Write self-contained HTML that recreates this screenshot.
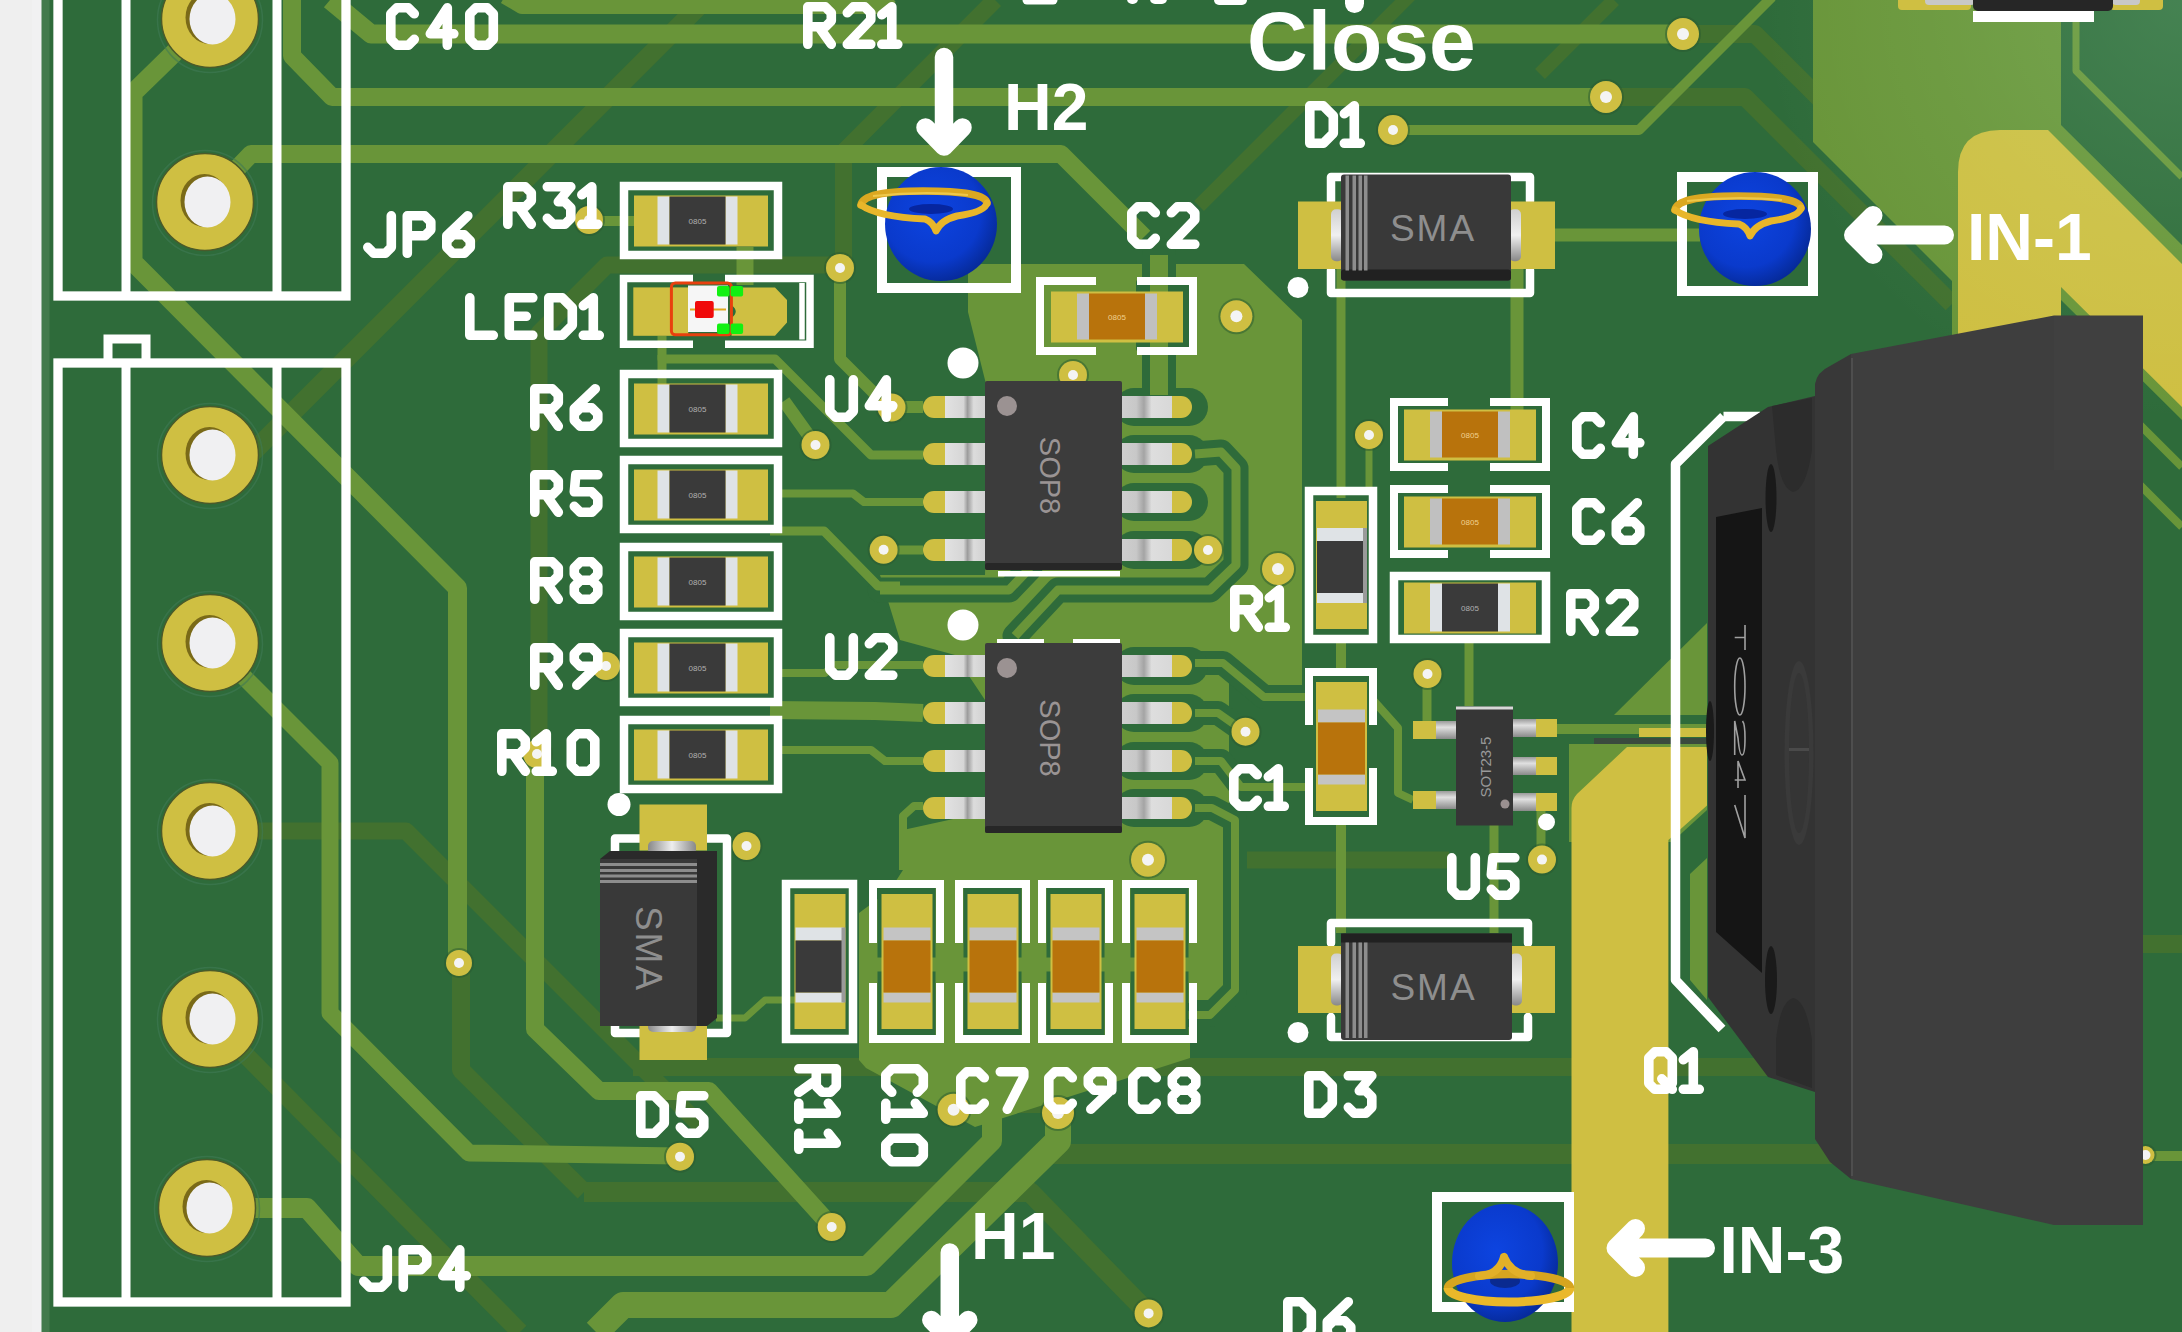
<!DOCTYPE html><html><head><meta charset="utf-8"><style>
html,body{margin:0;padding:0;background:#efefef;overflow:hidden}
svg{display:block;font-family:"Liberation Sans",sans-serif}
</style></head><body>
<svg width="2182" height="1332" viewBox="0 0 2182 1332">
<defs>
<radialGradient id="blue" cx="0.42" cy="0.4" r="0.62">
<stop offset="0" stop-color="#0d44e0"/><stop offset="0.7" stop-color="#0a3acc"/><stop offset="1" stop-color="#062a9a"/></radialGradient>
<linearGradient id="leadh" x1="0" y1="0" x2="0" y2="1">
<stop offset="0" stop-color="#9a9a9a"/><stop offset="0.35" stop-color="#e0e0e0"/><stop offset="1" stop-color="#8a8a8a"/></linearGradient>
<linearGradient id="leadh2" x1="0" y1="0" x2="0" y2="1">
<stop offset="0" stop-color="#d0d0d0"/><stop offset="0.5" stop-color="#f0f0f0"/><stop offset="1" stop-color="#888"/></linearGradient>
<linearGradient id="leadv2" x1="0" y1="0" x2="1" y2="0">
<stop offset="0" stop-color="#888"/><stop offset="0.5" stop-color="#eee"/><stop offset="1" stop-color="#888"/></linearGradient>
<radialGradient id="glow" cx="2182" cy="0" r="420" gradientUnits="userSpaceOnUse">
<stop offset="0" stop-color="#bfffd0" stop-opacity="0.16"/><stop offset="0.6" stop-color="#bfffd0" stop-opacity="0.06"/><stop offset="1" stop-color="#bfffd0" stop-opacity="0"/></radialGradient>
<linearGradient id="leadL" x1="0" y1="0" x2="1" y2="0">
<stop offset="0" stop-color="#e2e2e2"/><stop offset="0.45" stop-color="#d6d6d6"/><stop offset="0.55" stop-color="#9c9c9c"/><stop offset="0.7" stop-color="#dcdcdc"/><stop offset="1" stop-color="#d0d0d0"/></linearGradient>
<linearGradient id="leadR" x1="0" y1="0" x2="1" y2="0">
<stop offset="0" stop-color="#cfcfcf"/><stop offset="0.3" stop-color="#c8c8c8"/><stop offset="0.45" stop-color="#a4a4a4"/><stop offset="0.6" stop-color="#dedede"/><stop offset="1" stop-color="#d8d8d8"/></linearGradient>
<linearGradient id="leftbg" x1="0" y1="0" x2="1" y2="0">
<stop offset="0" stop-color="#f7f7f7"/><stop offset="1" stop-color="#e9e9e9"/></linearGradient>
</defs>

<rect x="0" y="0" width="2182" height="1332" fill="#efefef"/>
<rect x="32" y="0" width="10" height="1332" fill="#f1f1f2"/>
<rect x="42" y="0" width="2140" height="1332" fill="#2e6b3a"/>
<rect x="41.5" y="0" width="8" height="1332" fill="#427a4c"/>
<path d="M250,455 L705,0" fill="none" stroke="#42712f" stroke-width="19" stroke-linejoin="round" stroke-linecap="butt"/>
<path d="M539,754 L539,333 L607,265 L843.5,265" fill="none" stroke="#42712f" stroke-width="17" stroke-linejoin="round" stroke-linecap="butt"/>
<path d="M461,965 L461,1070 L584,1192" fill="none" stroke="#42712f" stroke-width="18" stroke-linejoin="round" stroke-linecap="butt"/>
<path d="M210,1019 L520,1332" fill="none" stroke="#42712f" stroke-width="18" stroke-linejoin="round" stroke-linecap="butt"/>
<path d="M843.5,268 L843.5,152 L995,0" fill="none" stroke="#42712f" stroke-width="17" stroke-linejoin="round" stroke-linecap="butt"/>
<path d="M210,831 L406,831 L585,1010 L700,1125" fill="none" stroke="#42712f" stroke-width="17" stroke-linejoin="round" stroke-linecap="butt"/>
<path d="M584,1192 L1030,1192 L1148,1313" fill="none" stroke="#42712f" stroke-width="20" stroke-linejoin="round" stroke-linecap="butt"/>
<path d="M633,1067 L1850,1067" fill="none" stroke="#42712f" stroke-width="18" stroke-linejoin="round" stroke-linecap="butt"/>
<path d="M1240,860 L1449,860" fill="none" stroke="#42712f" stroke-width="17" stroke-linejoin="round" stroke-linecap="butt"/>
<path d="M1042,1154 L1850,1154" fill="none" stroke="#42712f" stroke-width="20" stroke-linejoin="round" stroke-linecap="butt"/>
<path d="M2100,944 L2182,944" fill="none" stroke="#42712f" stroke-width="18" stroke-linejoin="round" stroke-linecap="butt"/>
<path d="M950,1104 L1058,1104" fill="none" stroke="#42712f" stroke-width="18" stroke-linejoin="round" stroke-linecap="butt"/>
<path d="M1683,34 L1755,34 L1813,92 L1860,139" fill="none" stroke="#42712f" stroke-width="18" stroke-linejoin="round" stroke-linecap="butt"/>
<path d="M1607,97 L1745,97 L1952,304" fill="none" stroke="#42712f" stroke-width="18" stroke-linejoin="round" stroke-linecap="butt"/>
<path d="M1614,0 L1540,74" fill="none" stroke="#42712f" stroke-width="14" stroke-linejoin="round" stroke-linecap="butt"/>
<path d="M1199,206 L1411,-6" fill="none" stroke="#42712f" stroke-width="14" stroke-linejoin="round" stroke-linecap="butt"/>
<path d="M1813,0 L2061,0 L2061,125 L2182,245 L2182,420 L2061,300 L2061,1150 L1952,1150 L1952,281 L1813,142 Z" fill="#699539"/>
<path d="M968,264 L1244,264 L1302,320 L1302,690 L1268,690 L1229,655 L1229,812 L1241,826 L1241,985 L1227,1000 L1190,1000 L1190,1058 L975,1127 L866,1068 L859,1060 L859,913 L890,890 L903,870 L903,830 L985,812 L985,700 L955,655 L900,640 L880,575 L985,575 L990,400 L968,312 Z" fill="#699539"/>
<path d="M1159,255 L1159,395" fill="none" stroke="#2e6b3a" stroke-width="34" stroke-linejoin="round" stroke-linecap="round"/>
<path d="M1015,636 L1058,590 L1210,590 L1236,565 L1236,468 L1221,452 L1195,454" fill="none" stroke="#2e6b3a" stroke-width="25" stroke-linejoin="round" stroke-linecap="round"/>
<path d="M880,590 L1009,590 L1030,568" fill="none" stroke="#2e6b3a" stroke-width="25" stroke-linejoin="round" stroke-linecap="round"/>
<path d="M1195,663 L1223,663 L1264,697 L1305,697" fill="none" stroke="#2e6b3a" stroke-width="24" stroke-linejoin="round" stroke-linecap="round"/>
<path d="M1195,713 L1218,713 L1245,732" fill="none" stroke="#2e6b3a" stroke-width="24" stroke-linejoin="round" stroke-linecap="round"/>
<path d="M1195,761 L1221,761 L1241,787 L1305,787" fill="none" stroke="#2e6b3a" stroke-width="24" stroke-linejoin="round" stroke-linecap="round"/>
<path d="M1195,808 L1212,808 L1235,820 L1235,990 L1210,1015 L1150,1015" fill="none" stroke="#2e6b3a" stroke-width="24" stroke-linejoin="round" stroke-linecap="round"/>
<rect x="1115" y="388" width="93" height="38" rx="19" fill="#2e6b3a"/>
<rect x="1115" y="435" width="93" height="38" rx="19" fill="#2e6b3a"/>
<rect x="1115" y="483" width="93" height="38" rx="19" fill="#2e6b3a"/>
<rect x="1115" y="531" width="93" height="38" rx="19" fill="#2e6b3a"/>
<rect x="1115" y="647" width="93" height="38" rx="19" fill="#2e6b3a"/>
<rect x="1115" y="694" width="93" height="38" rx="19" fill="#2e6b3a"/>
<rect x="1115" y="742" width="93" height="38" rx="19" fill="#2e6b3a"/>
<rect x="1115" y="789" width="93" height="38" rx="19" fill="#2e6b3a"/>
<rect x="1136" y="279" width="57" height="73" rx="4" fill="#2e6b3a"/>
<path d="M1159,255 L1159,395" fill="none" stroke="#699539" stroke-width="18" stroke-linejoin="round" stroke-linecap="butt"/>
<path d="M1015,636 L1058,590 L1210,590 L1236,565 L1236,468 L1221,452 L1195,454" fill="none" stroke="#699539" stroke-width="9" stroke-linejoin="round" stroke-linecap="butt"/>
<path d="M880,590 L1009,590 L1030,568" fill="none" stroke="#699539" stroke-width="9" stroke-linejoin="round" stroke-linecap="butt"/>
<path d="M1195,663 L1223,663 L1264,697 L1305,697" fill="none" stroke="#699539" stroke-width="8" stroke-linejoin="round" stroke-linecap="butt"/>
<path d="M1195,713 L1218,713 L1245,732" fill="none" stroke="#699539" stroke-width="8" stroke-linejoin="round" stroke-linecap="butt"/>
<path d="M1195,761 L1221,761 L1241,787 L1305,787" fill="none" stroke="#699539" stroke-width="8" stroke-linejoin="round" stroke-linecap="butt"/>
<path d="M1195,808 L1212,808 L1235,820 L1235,990 L1210,1015 L1150,1015" fill="none" stroke="#699539" stroke-width="8" stroke-linejoin="round" stroke-linecap="butt"/>
<path d="M1614,715 L1707,623 L1707,715 Z" fill="#699539"/>
<path d="M1569,744 L1707,744 L1707,810 L1672,842 L1569,842 Z" fill="#699539"/>
<path d="M1690,874 L1707,858 L1707,1000 L1690,980 Z" fill="#699539"/>
<path d="M505,-4 L522,6 L880,6 L890,-4" fill="none" stroke="#699539" stroke-width="16" stroke-linejoin="round" stroke-linecap="butt"/>
<path d="M330,0 L371,34 L1683,34" fill="none" stroke="#699539" stroke-width="19" stroke-linejoin="round" stroke-linecap="butt"/>
<path d="M292,0 L292,56 L332,97 L1607,97" fill="none" stroke="#699539" stroke-width="18" stroke-linejoin="round" stroke-linecap="butt"/>
<path d="M205,202 L251,154 L1061,154 L1144,237" fill="none" stroke="#699539" stroke-width="18" stroke-linejoin="round" stroke-linecap="butt"/>
<path d="M210,19 L175,52 L133,93 L133,262 L457.5,588 L457.5,965" fill="none" stroke="#699539" stroke-width="19" stroke-linejoin="round" stroke-linecap="butt"/>
<path d="M210,643 L330,763 L330,1013 L469,1153 L680,1156" fill="none" stroke="#699539" stroke-width="17" stroke-linejoin="round" stroke-linecap="butt"/>
<path d="M535,754 L535,1029 L599,1091 L709,1091 L832,1227" fill="none" stroke="#699539" stroke-width="18" stroke-linejoin="round" stroke-linecap="butt"/>
<path d="M992,1040 L992,1141 L867,1266 L358,1266 L307,1208 L207,1208" fill="none" stroke="#699539" stroke-width="20" stroke-linejoin="round" stroke-linecap="butt"/>
<path d="M1058,1113 L1058,1141 L891,1305 L623,1305 L596,1332" fill="none" stroke="#699539" stroke-width="26" stroke-linejoin="round" stroke-linecap="butt"/>
<path d="M589,221 L634,221" fill="none" stroke="#699539" stroke-width="10" stroke-linejoin="round" stroke-linecap="butt"/>
<path d="M745,247 L745,285" fill="none" stroke="#699539" stroke-width="17" stroke-linejoin="round" stroke-linecap="butt"/>
<path d="M662,336 L662,359 L775,359 L871,455 L923,455" fill="none" stroke="#699539" stroke-width="9" stroke-linejoin="round" stroke-linecap="butt"/>
<path d="M662,355 L662,385" fill="none" stroke="#699539" stroke-width="9" stroke-linejoin="round" stroke-linecap="butt"/>
<path d="M780,493.5 L853,493.5 L864,502 L923,502" fill="none" stroke="#699539" stroke-width="8" stroke-linejoin="round" stroke-linecap="butt"/>
<path d="M770,531 L824,531 L878,586 L900,586" fill="none" stroke="#699539" stroke-width="9" stroke-linejoin="round" stroke-linecap="butt"/>
<path d="M780,673 L825,673 L835,665 L923,665" fill="none" stroke="#699539" stroke-width="8" stroke-linejoin="round" stroke-linecap="butt"/>
<path d="M770,710 L875,711 L923,713" fill="none" stroke="#699539" stroke-width="18" stroke-linejoin="round" stroke-linecap="butt"/>
<path d="M780,750 L871,750 L885,761 L923,761" fill="none" stroke="#699539" stroke-width="8" stroke-linejoin="round" stroke-linecap="butt"/>
<path d="M923,806 L914,806 L903,816 L903,870" fill="none" stroke="#699539" stroke-width="8" stroke-linejoin="round" stroke-linecap="butt"/>
<path d="M883.6,550 L923,550" fill="none" stroke="#699539" stroke-width="9" stroke-linejoin="round" stroke-linecap="butt"/>
<path d="M784,401 L815.5,445" fill="none" stroke="#699539" stroke-width="13" stroke-linejoin="round" stroke-linecap="butt"/>
<path d="M840,268 L840,359 L888,407 L923,407" fill="none" stroke="#699539" stroke-width="12" stroke-linejoin="round" stroke-linecap="butt"/>
<path d="M1341,643 L1341,668" fill="none" stroke="#699539" stroke-width="10" stroke-linejoin="round" stroke-linecap="butt"/>
<path d="M716,1018 L745,1018 L765,1000 L800,1000" fill="none" stroke="#699539" stroke-width="7" stroke-linejoin="round" stroke-linecap="butt"/>
<path d="M1341,265 L1341,498" fill="none" stroke="#699539" stroke-width="9" stroke-linejoin="round" stroke-linecap="butt"/>
<path d="M1517,265 L1517,412" fill="none" stroke="#699539" stroke-width="13" stroke-linejoin="round" stroke-linecap="butt"/>
<path d="M1369,435 L1369,494" fill="none" stroke="#699539" stroke-width="7" stroke-linejoin="round" stroke-linecap="butt"/>
<path d="M1341,825 L1341,933" fill="none" stroke="#699539" stroke-width="10" stroke-linejoin="round" stroke-linecap="butt"/>
<path d="M1469,643 L1469,706" fill="none" stroke="#699539" stroke-width="9" stroke-linejoin="round" stroke-linecap="butt"/>
<path d="M1494,825 L1494,933" fill="none" stroke="#699539" stroke-width="9" stroke-linejoin="round" stroke-linecap="butt"/>
<path d="M1427,674 L1427,722" fill="none" stroke="#699539" stroke-width="9" stroke-linejoin="round" stroke-linecap="butt"/>
<path d="M1373,700 L1398,728 L1398,793 L1413,800" fill="none" stroke="#699539" stroke-width="8" stroke-linejoin="round" stroke-linecap="butt"/>
<path d="M1557,729 L1707,729" fill="none" stroke="#699539" stroke-width="10" stroke-linejoin="round" stroke-linecap="butt"/>
<path d="M1541,802 L1541,860" fill="none" stroke="#699539" stroke-width="9" stroke-linejoin="round" stroke-linecap="butt"/>
<path d="M1555,235 L1700,235" fill="none" stroke="#699539" stroke-width="13" stroke-linejoin="round" stroke-linecap="butt"/>
<path d="M1393,130 L1639,130 L1772,-3" fill="none" stroke="#699539" stroke-width="10" stroke-linejoin="round" stroke-linecap="butt"/>
<path d="M2076,0 L2076,71 L2182,177" fill="none" stroke="#699539" stroke-width="7" stroke-linejoin="round" stroke-linecap="butt"/>
<path d="M2143,1156 L2182,1156" fill="none" stroke="#699539" stroke-width="10" stroke-linejoin="round" stroke-linecap="butt"/>
<path d="M2120,405 L2182,467" fill="none" stroke="#699539" stroke-width="8" stroke-linejoin="round" stroke-linecap="butt"/>
<path d="M2120,465 L2182,527" fill="none" stroke="#699539" stroke-width="8" stroke-linejoin="round" stroke-linecap="butt"/>
<path d="M1958,1150 L1958,172 Q1958,130 2000,130 L2048,130 L2182,264 L2182,407 L2061,287 L2061,1150 Z" fill="#cfbf42"/>
<path d="M1571.5,1332 L1571.5,808 Q1571.5,800 1577,794 L1627,747 L1707,747 L1707,805.6 L1668.4,840 L1668.4,1332 Z" fill="#cfbf42"/>
<path d="M1639,728 L1707,728 L1707,737 L1639,737 Z" fill="#cfbf42"/>
<path d="M1594,741 L1707,741" stroke="#3a4a3e" stroke-width="6"/>
<circle cx="589" cy="220" r="16" fill="#2a5a30" opacity="0.5"/>
<circle cx="589" cy="220" r="14" fill="#cfbf42"/>
<circle cx="589" cy="220" r="5" fill="#f4f4f4"/>
<circle cx="840" cy="268" r="16" fill="#2a5a30" opacity="0.5"/>
<circle cx="840" cy="268" r="14" fill="#cfbf42"/>
<circle cx="840" cy="268" r="5" fill="#f4f4f4"/>
<circle cx="815.5" cy="445" r="16" fill="#2a5a30" opacity="0.5"/>
<circle cx="815.5" cy="445" r="14" fill="#cfbf42"/>
<circle cx="815.5" cy="445" r="5" fill="#f4f4f4"/>
<circle cx="891.5" cy="407.5" r="16" fill="#2a5a30" opacity="0.5"/>
<circle cx="891.5" cy="407.5" r="14" fill="#cfbf42"/>
<circle cx="891.5" cy="407.5" r="5" fill="#f4f4f4"/>
<circle cx="883.6" cy="549.8" r="16" fill="#2a5a30" opacity="0.5"/>
<circle cx="883.6" cy="549.8" r="14" fill="#cfbf42"/>
<circle cx="883.6" cy="549.8" r="5" fill="#f4f4f4"/>
<circle cx="1208" cy="550" r="16" fill="#2a5a30" opacity="0.5"/>
<circle cx="1208" cy="550" r="14" fill="#cfbf42"/>
<circle cx="1208" cy="550" r="5" fill="#f4f4f4"/>
<circle cx="1236.4" cy="316.3" r="18" fill="#2a5a30" opacity="0.5"/>
<circle cx="1236.4" cy="316.3" r="16" fill="#cfbf42"/>
<circle cx="1236.4" cy="316.3" r="6" fill="#f4f4f4"/>
<circle cx="1073" cy="375" r="16" fill="#2a5a30" opacity="0.5"/>
<circle cx="1073" cy="375" r="14" fill="#cfbf42"/>
<circle cx="1073" cy="375" r="5" fill="#f4f4f4"/>
<circle cx="1393" cy="130" r="17" fill="#2a5a30" opacity="0.5"/>
<circle cx="1393" cy="130" r="15" fill="#cfbf42"/>
<circle cx="1393" cy="130" r="5" fill="#f4f4f4"/>
<circle cx="1606" cy="97" r="18" fill="#2a5a30" opacity="0.5"/>
<circle cx="1606" cy="97" r="16" fill="#cfbf42"/>
<circle cx="1606" cy="97" r="6" fill="#f4f4f4"/>
<circle cx="1683" cy="34" r="18" fill="#2a5a30" opacity="0.5"/>
<circle cx="1683" cy="34" r="16" fill="#cfbf42"/>
<circle cx="1683" cy="34" r="6" fill="#f4f4f4"/>
<circle cx="1369" cy="435" r="16" fill="#2a5a30" opacity="0.5"/>
<circle cx="1369" cy="435" r="14" fill="#cfbf42"/>
<circle cx="1369" cy="435" r="5" fill="#f4f4f4"/>
<circle cx="1278" cy="569" r="18" fill="#2a5a30" opacity="0.5"/>
<circle cx="1278" cy="569" r="16" fill="#cfbf42"/>
<circle cx="1278" cy="569" r="6" fill="#f4f4f4"/>
<circle cx="1427.5" cy="674" r="16" fill="#2a5a30" opacity="0.5"/>
<circle cx="1427.5" cy="674" r="14" fill="#cfbf42"/>
<circle cx="1427.5" cy="674" r="5" fill="#f4f4f4"/>
<circle cx="1542" cy="859.6" r="16" fill="#2a5a30" opacity="0.5"/>
<circle cx="1542" cy="859.6" r="14" fill="#cfbf42"/>
<circle cx="1542" cy="859.6" r="5" fill="#f4f4f4"/>
<circle cx="1245.5" cy="731.7" r="16" fill="#2a5a30" opacity="0.5"/>
<circle cx="1245.5" cy="731.7" r="14" fill="#cfbf42"/>
<circle cx="1245.5" cy="731.7" r="5" fill="#f4f4f4"/>
<circle cx="1148" cy="859.8" r="19" fill="#2a5a30" opacity="0.5"/>
<circle cx="1148" cy="859.8" r="17" fill="#cfbf42"/>
<circle cx="1148" cy="859.8" r="6" fill="#f4f4f4"/>
<circle cx="746.5" cy="846" r="16" fill="#2a5a30" opacity="0.5"/>
<circle cx="746.5" cy="846" r="14" fill="#cfbf42"/>
<circle cx="746.5" cy="846" r="5" fill="#f4f4f4"/>
<circle cx="459" cy="963" r="15" fill="#2a5a30" opacity="0.5"/>
<circle cx="459" cy="963" r="13" fill="#cfbf42"/>
<circle cx="459" cy="963" r="5" fill="#f4f4f4"/>
<circle cx="537" cy="754" r="16" fill="#2a5a30" opacity="0.5"/>
<circle cx="537" cy="754" r="14" fill="#cfbf42"/>
<circle cx="537" cy="754" r="5" fill="#f4f4f4"/>
<circle cx="606" cy="666" r="16" fill="#2a5a30" opacity="0.5"/>
<circle cx="606" cy="666" r="14" fill="#cfbf42"/>
<circle cx="606" cy="666" r="5" fill="#f4f4f4"/>
<circle cx="680" cy="1156.7" r="16" fill="#2a5a30" opacity="0.5"/>
<circle cx="680" cy="1156.7" r="14" fill="#cfbf42"/>
<circle cx="680" cy="1156.7" r="5" fill="#f4f4f4"/>
<circle cx="831.7" cy="1227" r="16" fill="#2a5a30" opacity="0.5"/>
<circle cx="831.7" cy="1227" r="14" fill="#cfbf42"/>
<circle cx="831.7" cy="1227" r="5" fill="#f4f4f4"/>
<circle cx="953.6" cy="1109.7" r="18" fill="#2a5a30" opacity="0.5"/>
<circle cx="953.6" cy="1109.7" r="16" fill="#cfbf42"/>
<circle cx="953.6" cy="1109.7" r="6" fill="#f4f4f4"/>
<circle cx="1058" cy="1113" r="18" fill="#2a5a30" opacity="0.5"/>
<circle cx="1058" cy="1113" r="16" fill="#cfbf42"/>
<circle cx="1058" cy="1113" r="6" fill="#f4f4f4"/>
<circle cx="1148.6" cy="1313.4" r="16" fill="#2a5a30" opacity="0.5"/>
<circle cx="1148.6" cy="1313.4" r="14" fill="#cfbf42"/>
<circle cx="1148.6" cy="1313.4" r="5" fill="#f4f4f4"/>
<circle cx="2145.5" cy="1155" r="11" fill="#2a5a30" opacity="0.5"/>
<circle cx="2145.5" cy="1155" r="9" fill="#cfbf42"/>
<circle cx="2145.5" cy="1155" r="5" fill="#f4f4f4"/>
<rect x="1700" y="0" width="482" height="420" fill="url(#glow)"/>
<rect x="58" y="-20" width="288" height="316" fill="none" stroke="#fff" stroke-width="9.3"/>
<path d="M126,-10 L126,292" fill="none" stroke="#fff" stroke-width="9" stroke-linejoin="round" stroke-linecap="butt"/>
<path d="M277,-10 L277,292" fill="none" stroke="#fff" stroke-width="9" stroke-linejoin="round" stroke-linecap="butt"/>
<circle cx="210" cy="20" r="52.5" fill="none" stroke="#3f7a55" stroke-width="1.5" opacity="0.6"/>
<circle cx="210" cy="19" r="48.5" fill="#cfbf42" stroke="#4a5a2a" stroke-width="1.5"/>
<ellipse cx="209.5" cy="17.5" rx="24" ry="26.5" fill="#7a6a18"/>
<ellipse cx="212.5" cy="19" rx="23" ry="25.5" fill="#f0f0f2"/>
<circle cx="205" cy="203" r="52.5" fill="none" stroke="#3f7a55" stroke-width="1.5" opacity="0.6"/>
<circle cx="205" cy="202" r="48.5" fill="#cfbf42" stroke="#4a5a2a" stroke-width="1.5"/>
<ellipse cx="204.5" cy="200.5" rx="24" ry="26.5" fill="#7a6a18"/>
<ellipse cx="207.5" cy="202" rx="23" ry="25.5" fill="#f0f0f2"/>
<rect x="58" y="363" width="288" height="939" fill="none" stroke="#fff" stroke-width="9.3"/>
<path d="M108,363 L108,339 L146,339 L146,363" fill="none" stroke="#fff" stroke-width="9"/>
<path d="M126,363 L126,1302" fill="none" stroke="#fff" stroke-width="9" stroke-linejoin="round" stroke-linecap="butt"/>
<path d="M277,363 L277,1302" fill="none" stroke="#fff" stroke-width="9" stroke-linejoin="round" stroke-linecap="butt"/>
<circle cx="210" cy="456" r="52.5" fill="none" stroke="#3f7a55" stroke-width="1.5" opacity="0.6"/>
<circle cx="210" cy="455" r="48.5" fill="#cfbf42" stroke="#4a5a2a" stroke-width="1.5"/>
<ellipse cx="209.5" cy="453.5" rx="24" ry="26.5" fill="#7a6a18"/>
<ellipse cx="212.5" cy="455" rx="23" ry="25.5" fill="#f0f0f2"/>
<circle cx="210" cy="644" r="52.5" fill="none" stroke="#3f7a55" stroke-width="1.5" opacity="0.6"/>
<circle cx="210" cy="643" r="48.5" fill="#cfbf42" stroke="#4a5a2a" stroke-width="1.5"/>
<ellipse cx="209.5" cy="641.5" rx="24" ry="26.5" fill="#7a6a18"/>
<ellipse cx="212.5" cy="643" rx="23" ry="25.5" fill="#f0f0f2"/>
<circle cx="210" cy="832" r="52.5" fill="none" stroke="#3f7a55" stroke-width="1.5" opacity="0.6"/>
<circle cx="210" cy="831" r="48.5" fill="#cfbf42" stroke="#4a5a2a" stroke-width="1.5"/>
<ellipse cx="209.5" cy="829.5" rx="24" ry="26.5" fill="#7a6a18"/>
<ellipse cx="212.5" cy="831" rx="23" ry="25.5" fill="#f0f0f2"/>
<circle cx="210" cy="1020" r="52.5" fill="none" stroke="#3f7a55" stroke-width="1.5" opacity="0.6"/>
<circle cx="210" cy="1019" r="48.5" fill="#cfbf42" stroke="#4a5a2a" stroke-width="1.5"/>
<ellipse cx="209.5" cy="1017.5" rx="24" ry="26.5" fill="#7a6a18"/>
<ellipse cx="212.5" cy="1019" rx="23" ry="25.5" fill="#f0f0f2"/>
<circle cx="207" cy="1209" r="52.5" fill="none" stroke="#3f7a55" stroke-width="1.5" opacity="0.6"/>
<circle cx="207" cy="1208" r="48.5" fill="#cfbf42" stroke="#4a5a2a" stroke-width="1.5"/>
<ellipse cx="206.5" cy="1206.5" rx="24" ry="26.5" fill="#7a6a18"/>
<ellipse cx="209.5" cy="1208" rx="23" ry="25.5" fill="#f0f0f2"/>
<rect x="624" y="186" width="154" height="69" fill="none" stroke="#fff" stroke-width="8.5"/>
<rect x="634" y="195.5" width="134" height="51" fill="#cfbf42"/>
<rect x="657.5" y="196.5" width="12" height="48" fill="#dfe3e6"/>
<rect x="725.5" y="196.5" width="12" height="48" fill="#dfe3e6"/>
<rect x="669.5" y="196.5" width="56" height="48" fill="#3a3a3a"/>
<text x="697.5" y="223.5" font-size="8" fill="#b0b0b0" text-anchor="middle" font-family="Liberation Sans">0805</text>
<rect x="624" y="374" width="154" height="69" fill="none" stroke="#fff" stroke-width="8.5"/>
<rect x="634" y="383.5" width="134" height="51" fill="#cfbf42"/>
<rect x="657.5" y="384.5" width="12" height="48" fill="#dfe3e6"/>
<rect x="725.5" y="384.5" width="12" height="48" fill="#dfe3e6"/>
<rect x="669.5" y="384.5" width="56" height="48" fill="#3a3a3a"/>
<text x="697.5" y="411.5" font-size="8" fill="#b0b0b0" text-anchor="middle" font-family="Liberation Sans">0805</text>
<rect x="624" y="460" width="154" height="69" fill="none" stroke="#fff" stroke-width="8.5"/>
<rect x="634" y="469.5" width="134" height="51" fill="#cfbf42"/>
<rect x="657.5" y="470.5" width="12" height="48" fill="#dfe3e6"/>
<rect x="725.5" y="470.5" width="12" height="48" fill="#dfe3e6"/>
<rect x="669.5" y="470.5" width="56" height="48" fill="#3a3a3a"/>
<text x="697.5" y="497.5" font-size="8" fill="#b0b0b0" text-anchor="middle" font-family="Liberation Sans">0805</text>
<rect x="624" y="547" width="154" height="69" fill="none" stroke="#fff" stroke-width="8.5"/>
<rect x="634" y="556.5" width="134" height="51" fill="#cfbf42"/>
<rect x="657.5" y="557.5" width="12" height="48" fill="#dfe3e6"/>
<rect x="725.5" y="557.5" width="12" height="48" fill="#dfe3e6"/>
<rect x="669.5" y="557.5" width="56" height="48" fill="#3a3a3a"/>
<text x="697.5" y="584.5" font-size="8" fill="#b0b0b0" text-anchor="middle" font-family="Liberation Sans">0805</text>
<rect x="624" y="633" width="154" height="69" fill="none" stroke="#fff" stroke-width="8.5"/>
<rect x="634" y="642.5" width="134" height="51" fill="#cfbf42"/>
<rect x="657.5" y="643.5" width="12" height="48" fill="#dfe3e6"/>
<rect x="725.5" y="643.5" width="12" height="48" fill="#dfe3e6"/>
<rect x="669.5" y="643.5" width="56" height="48" fill="#3a3a3a"/>
<text x="697.5" y="670.5" font-size="8" fill="#b0b0b0" text-anchor="middle" font-family="Liberation Sans">0805</text>
<rect x="624" y="720" width="154" height="69" fill="none" stroke="#fff" stroke-width="8.5"/>
<rect x="634" y="729.5" width="134" height="51" fill="#cfbf42"/>
<rect x="657.5" y="730.5" width="12" height="48" fill="#dfe3e6"/>
<rect x="725.5" y="730.5" width="12" height="48" fill="#dfe3e6"/>
<rect x="669.5" y="730.5" width="56" height="48" fill="#3a3a3a"/>
<text x="697.5" y="757.5" font-size="8" fill="#b0b0b0" text-anchor="middle" font-family="Liberation Sans">0805</text>
<path d="M693,278.5 L623.5,278.5 L623.5,344.3 L693,344.3 M725,278.5 L810,278.5 L810,344.3 L725,344.3" fill="none" stroke="#fff" stroke-width="7.5"/>
<path d="M802,283 L802,339.5" stroke="#fff" stroke-width="5.5"/>
<rect x="633.3" y="287.4" width="55" height="48.4" fill="#cfbf42"/>
<path d="M731.5,287.4 L775,287.4 L787,300 L787,322.6 L775,335.8 L731.5,335.8 L731.5,318 Q740,311.6 731.5,305 Z" fill="#cfbf42"/>
<rect x="671.4" y="283" width="60" height="51.8" rx="4" fill="none" stroke="#e8400e" stroke-width="3"/>
<rect x="688" y="285.5" width="40" height="46.5" fill="#f6f6f6"/>
<path d="M690,309.5 L726,309.5" stroke="#e0a820" stroke-width="2"/>
<rect x="695" y="301" width="18.7" height="17" rx="2" fill="#f00a0a"/>
<rect x="717" y="286" width="12.5" height="10.5" rx="2" fill="#12f012"/>
<rect x="730.6" y="286" width="12.5" height="10.5" rx="2" fill="#12f012"/>
<rect x="717" y="323.6" width="12.5" height="10.5" rx="2" fill="#12f012"/>
<rect x="730.6" y="323.6" width="12.5" height="10.5" rx="2" fill="#12f012"/>
<rect x="882" y="172" width="134" height="116" fill="none" stroke="#fff" stroke-width="10"/>
<ellipse cx="941" cy="224" rx="56" ry="57" fill="url(#blue)"/>
<ellipse cx="931" cy="209" rx="22" ry="5" fill="#0626a0"/>
<path d="M861,205 Q863,191 923,191 Q985,191 987,203" fill="none" stroke="#dba821" stroke-width="7.5" stroke-linecap="round"/>
<path d="M861,205 Q878,217 925,219 Q933,222 936,231 Q941,220 957,216 Q985,212 987,203" fill="none" stroke="#e8b62a" stroke-width="7" stroke-linecap="round" stroke-linejoin="round"/>
<path d="M873,196 Q923,191 968,195" fill="none" stroke="#f2cf55" stroke-width="2.2" opacity="0.8"/>
<rect x="1682" y="177" width="131" height="114" fill="none" stroke="#fff" stroke-width="10"/>
<ellipse cx="1755" cy="229" rx="56" ry="57" fill="url(#blue)"/>
<ellipse cx="1745" cy="214" rx="22" ry="5" fill="#0626a0"/>
<path d="M1675,210 Q1677,196 1737,196 Q1799,196 1801,208" fill="none" stroke="#dba821" stroke-width="7.5" stroke-linecap="round"/>
<path d="M1675,210 Q1692,222 1739,224 Q1747,227 1750,236 Q1755,225 1771,221 Q1799,217 1801,208" fill="none" stroke="#e8b62a" stroke-width="7" stroke-linecap="round" stroke-linejoin="round"/>
<path d="M1687,201 Q1737,196 1782,200" fill="none" stroke="#f2cf55" stroke-width="2.2" opacity="0.8"/>
<rect x="1437" y="1197" width="132" height="110" fill="none" stroke="#fff" stroke-width="10"/>
<ellipse cx="1505" cy="1263" rx="53" ry="59" fill="url(#blue)"/>
<ellipse cx="1505" cy="1281" rx="15" ry="7" fill="#0a2a90"/>
<path d="M1448,1288 A61 14 0 0 1 1570,1288" fill="none" stroke="#d6a51f" stroke-width="8.5"/>
<path d="M1479,1276 Q1499,1275 1504,1257 M1531,1276 Q1511,1274 1504,1257" fill="none" stroke="#e2b028" stroke-width="8" stroke-linecap="round"/>
<path d="M1448,1288 A61 14 0 0 0 1570,1288" fill="none" stroke="#eab82a" stroke-width="9"/>
<path d="M1096,281 L1040,281 L1040,351 L1096,351 M1137,281 L1193,281 L1193,351 L1137,351" fill="none" stroke="#fff" stroke-width="8"/>
<rect x="1051" y="291.5" width="132" height="51" fill="#cfbf42"/>
<rect x="1077.0" y="293.5" width="12" height="46" fill="#c0c0c0"/>
<rect x="1145.0" y="293.5" width="12" height="46" fill="#c0c0c0"/>
<rect x="1089.0" y="293.5" width="56" height="46" fill="#b8730c"/>
<text x="1117.0" y="319.5" font-size="8" fill="#f0d090" text-anchor="middle" font-family="Liberation Sans">0805</text>
<rect x="998" y="571" width="122" height="5.5" fill="#fff"/>
<rect x="923" y="396" width="40" height="22" rx="11" fill="#cfbf42"/>
<rect x="945" y="396" width="41" height="22" fill="url(#leadL)"/>
<rect x="1150" y="396" width="42" height="22" rx="11" fill="#cfbf42"/>
<rect x="1121" y="396" width="51" height="22" fill="url(#leadR)"/>
<rect x="923" y="443" width="40" height="22" rx="11" fill="#cfbf42"/>
<rect x="945" y="443" width="41" height="22" fill="url(#leadL)"/>
<rect x="1150" y="443" width="42" height="22" rx="11" fill="#cfbf42"/>
<rect x="1121" y="443" width="51" height="22" fill="url(#leadR)"/>
<rect x="923" y="491" width="40" height="22" rx="11" fill="#cfbf42"/>
<rect x="945" y="491" width="41" height="22" fill="url(#leadL)"/>
<rect x="1150" y="491" width="42" height="22" rx="11" fill="#cfbf42"/>
<rect x="1121" y="491" width="51" height="22" fill="url(#leadR)"/>
<rect x="923" y="539" width="40" height="22" rx="11" fill="#cfbf42"/>
<rect x="945" y="539" width="41" height="22" fill="url(#leadL)"/>
<rect x="1150" y="539" width="42" height="22" rx="11" fill="#cfbf42"/>
<rect x="1121" y="539" width="51" height="22" fill="url(#leadR)"/>
<rect x="985" y="381" width="137" height="189" rx="2" fill="#3c3c3c"/>
<rect x="985" y="563" width="137" height="7" rx="2" fill="#272727"/>
<circle cx="963" cy="363" r="15.5" fill="#fff"/>
<circle cx="1007" cy="406" r="10" fill="#9b9292"/>
<text x="1049.5" y="475.5" font-size="29" fill="#9a9494" text-anchor="middle" dominant-baseline="central" transform="rotate(90 1049.5 475.5)">SOP8</text>
<rect x="997" y="639" width="47" height="5.5" fill="#fff"/><rect x="1073" y="639" width="47" height="5.5" fill="#fff"/>
<rect x="923" y="655" width="40" height="22" rx="11" fill="#cfbf42"/>
<rect x="945" y="655" width="41" height="22" fill="url(#leadL)"/>
<rect x="1150" y="655" width="42" height="22" rx="11" fill="#cfbf42"/>
<rect x="1121" y="655" width="51" height="22" fill="url(#leadR)"/>
<rect x="923" y="702" width="40" height="22" rx="11" fill="#cfbf42"/>
<rect x="945" y="702" width="41" height="22" fill="url(#leadL)"/>
<rect x="1150" y="702" width="42" height="22" rx="11" fill="#cfbf42"/>
<rect x="1121" y="702" width="51" height="22" fill="url(#leadR)"/>
<rect x="923" y="750" width="40" height="22" rx="11" fill="#cfbf42"/>
<rect x="945" y="750" width="41" height="22" fill="url(#leadL)"/>
<rect x="1150" y="750" width="42" height="22" rx="11" fill="#cfbf42"/>
<rect x="1121" y="750" width="51" height="22" fill="url(#leadR)"/>
<rect x="923" y="797" width="40" height="22" rx="11" fill="#cfbf42"/>
<rect x="945" y="797" width="41" height="22" fill="url(#leadL)"/>
<rect x="1150" y="797" width="42" height="22" rx="11" fill="#cfbf42"/>
<rect x="1121" y="797" width="51" height="22" fill="url(#leadR)"/>
<rect x="985" y="643" width="137" height="190" rx="2" fill="#3c3c3c"/>
<rect x="985" y="826" width="137" height="7" rx="2" fill="#272727"/>
<circle cx="963" cy="625" r="15.5" fill="#fff"/>
<circle cx="1007" cy="668" r="10" fill="#9b9292"/>
<text x="1049.5" y="738.0" font-size="29" fill="#9a9494" text-anchor="middle" dominant-baseline="central" transform="rotate(90 1049.5 738.0)">SOP8</text>
<path d="M1448,402 L1394,402 L1394,467 L1448,467 M1490,402 L1546,402 L1546,467 L1490,467" fill="none" stroke="#fff" stroke-width="8"/>
<rect x="1404" y="409.5" width="132" height="51" fill="#cfbf42"/>
<rect x="1430.0" y="411.5" width="12" height="46" fill="#c0c0c0"/>
<rect x="1498.0" y="411.5" width="12" height="46" fill="#c0c0c0"/>
<rect x="1442.0" y="411.5" width="56" height="46" fill="#b8730c"/>
<text x="1470.0" y="437.5" font-size="8" fill="#f0d090" text-anchor="middle" font-family="Liberation Sans">0805</text>
<path d="M1448,489 L1394,489 L1394,554 L1448,554 M1490,489 L1546,489 L1546,554 L1490,554" fill="none" stroke="#fff" stroke-width="8"/>
<rect x="1404" y="496.5" width="132" height="51" fill="#cfbf42"/>
<rect x="1430.0" y="498.5" width="12" height="46" fill="#c0c0c0"/>
<rect x="1498.0" y="498.5" width="12" height="46" fill="#c0c0c0"/>
<rect x="1442.0" y="498.5" width="56" height="46" fill="#b8730c"/>
<text x="1470.0" y="524.5" font-size="8" fill="#f0d090" text-anchor="middle" font-family="Liberation Sans">0805</text>
<rect x="1394" y="576" width="152" height="63" fill="none" stroke="#fff" stroke-width="8.5"/>
<rect x="1404" y="582.5" width="132" height="51" fill="#cfbf42"/>
<rect x="1430.0" y="583.5" width="12" height="48" fill="#dfe3e6"/>
<rect x="1498.0" y="583.5" width="12" height="48" fill="#dfe3e6"/>
<rect x="1442.0" y="583.5" width="56" height="48" fill="#3a3a3a"/>
<text x="1470.0" y="610.5" font-size="8" fill="#b0b0b0" text-anchor="middle" font-family="Liberation Sans">0805</text>
<rect x="1309" y="491" width="64" height="148" fill="none" stroke="#fff" stroke-width="8.5"/>
<rect x="1316.0" y="501" width="51" height="128" fill="#cfbf42"/>
<rect x="1317.0" y="528.0" width="48" height="13" fill="#dfe3e6"/>
<rect x="1317.0" y="593.0" width="48" height="10" fill="#dfe3e6"/>
<rect x="1317.0" y="541.0" width="48" height="52" fill="#3a3a3a"/>
<rect x="1363.0" y="528.0" width="4" height="75" fill="#9a9a9a"/>
<path d="M1309,725 L1309,672 L1373,672 L1373,725 M1309,768 L1309,821 L1373,821 L1373,768" fill="none" stroke="#fff" stroke-width="8"/>
<rect x="1316.0" y="682" width="51" height="129" fill="#cfbf42"/>
<rect x="1318.0" y="709.5" width="47" height="13" fill="#c4c4c4"/>
<rect x="1318.0" y="774.5" width="47" height="10" fill="#c4c4c4"/>
<rect x="1318.0" y="722.5" width="47" height="52" fill="#b8730c"/>
<rect x="786" y="884" width="67" height="155" fill="none" stroke="#fff" stroke-width="8.5"/>
<rect x="794.5" y="894" width="51" height="135" fill="#cfbf42"/>
<rect x="795.5" y="927.5" width="48" height="13" fill="#dfe3e6"/>
<rect x="795.5" y="992.5" width="48" height="10" fill="#dfe3e6"/>
<rect x="795.5" y="940.5" width="48" height="52" fill="#3a3a3a"/>
<rect x="841.5" y="927.5" width="4" height="75" fill="#9a9a9a"/>
<path d="M873,943 L873,884 L940,884 L940,943 M873,983 L873,1039 L940,1039 L940,983" fill="none" stroke="#fff" stroke-width="8"/>
<rect x="877.5" y="888" width="58" height="69.5" fill="#2e6b3a"/>
<rect x="877.5" y="971.5" width="58" height="63.5" fill="#2e6b3a"/>
<rect x="881.5" y="894" width="51" height="135" fill="#cfbf42"/>
<rect x="883.5" y="927.5" width="47" height="13" fill="#c4c4c4"/>
<rect x="883.5" y="992.5" width="47" height="10" fill="#c4c4c4"/>
<rect x="883.5" y="940.5" width="47" height="52" fill="#b8730c"/>
<path d="M959,943 L959,884 L1026,884 L1026,943 M959,983 L959,1039 L1026,1039 L1026,983" fill="none" stroke="#fff" stroke-width="8"/>
<rect x="963.5" y="888" width="58" height="69.5" fill="#2e6b3a"/>
<rect x="963.5" y="971.5" width="58" height="63.5" fill="#2e6b3a"/>
<rect x="967.5" y="894" width="51" height="135" fill="#cfbf42"/>
<rect x="969.5" y="927.5" width="47" height="13" fill="#c4c4c4"/>
<rect x="969.5" y="992.5" width="47" height="10" fill="#c4c4c4"/>
<rect x="969.5" y="940.5" width="47" height="52" fill="#b8730c"/>
<path d="M1042,943 L1042,884 L1109,884 L1109,943 M1042,983 L1042,1039 L1109,1039 L1109,983" fill="none" stroke="#fff" stroke-width="8"/>
<rect x="1046.5" y="888" width="58" height="69.5" fill="#2e6b3a"/>
<rect x="1046.5" y="971.5" width="58" height="63.5" fill="#2e6b3a"/>
<rect x="1050.5" y="894" width="51" height="135" fill="#cfbf42"/>
<rect x="1052.5" y="927.5" width="47" height="13" fill="#c4c4c4"/>
<rect x="1052.5" y="992.5" width="47" height="10" fill="#c4c4c4"/>
<rect x="1052.5" y="940.5" width="47" height="52" fill="#b8730c"/>
<path d="M1126,943 L1126,884 L1193,884 L1193,943 M1126,983 L1126,1039 L1193,1039 L1193,983" fill="none" stroke="#fff" stroke-width="8"/>
<rect x="1130.5" y="888" width="58" height="69.5" fill="#2e6b3a"/>
<rect x="1130.5" y="971.5" width="58" height="63.5" fill="#2e6b3a"/>
<rect x="1134.5" y="894" width="51" height="135" fill="#cfbf42"/>
<rect x="1136.5" y="927.5" width="47" height="13" fill="#c4c4c4"/>
<rect x="1136.5" y="992.5" width="47" height="10" fill="#c4c4c4"/>
<rect x="1136.5" y="940.5" width="47" height="52" fill="#b8730c"/>
<path d="M1331,201 L1331,177 L1530,177 L1530,201 M1331,270 L1331,293 L1530,293 L1530,270" fill="none" stroke="#fff" stroke-width="8.5" stroke-linejoin="round" stroke-linecap="round"/>
<rect x="1298" y="201.5" width="257" height="67.5" fill="#cfbf42"/>
<rect x="1331" y="209.25" width="12" height="52" rx="5" fill="url(#leadh2)"/>
<rect x="1509" y="209.25" width="12" height="52" rx="5" fill="url(#leadh2)"/>
<rect x="1341" y="174.5" width="170" height="106.0" rx="3" fill="#393939"/>
<rect x="1341" y="269.5" width="170" height="11" rx="3" fill="#212121"/>
<rect x="1345.5" y="175.5" width="3.5" height="95.0" fill="#8d8d8d"/>
<rect x="1352.5" y="175.5" width="3.5" height="95.0" fill="#8d8d8d"/>
<rect x="1358.5" y="175.5" width="3.5" height="95.0" fill="#8d8d8d"/>
<rect x="1364" y="175.5" width="3.5" height="95.0" fill="#8d8d8d"/>
<text x="1433.0" y="240.5" font-size="37" fill="#8e8e8e" text-anchor="middle" letter-spacing="2">SMA</text>
<circle cx="1298" cy="287.5" r="10.5" fill="#fff"/>
<path d="M1331,943 L1331,923 L1528,923 L1528,943 M1331,1017 L1331,1037 L1528,1037 L1528,1017" fill="none" stroke="#fff" stroke-width="8.5" stroke-linejoin="round" stroke-linecap="round"/>
<rect x="1298" y="946" width="257" height="67" fill="#cfbf42"/>
<rect x="1331" y="953.5" width="12" height="52" rx="5" fill="url(#leadh2)"/>
<rect x="1510" y="953.5" width="12" height="52" rx="5" fill="url(#leadh2)"/>
<rect x="1341" y="933.5" width="171" height="106.5" rx="3" fill="#393939"/>
<rect x="1341" y="933.5" width="171" height="9" fill="#212121"/>
<rect x="1345.5" y="942.5" width="3.5" height="95.5" fill="#8d8d8d"/>
<rect x="1352.5" y="942.5" width="3.5" height="95.5" fill="#8d8d8d"/>
<rect x="1358.5" y="942.5" width="3.5" height="95.5" fill="#8d8d8d"/>
<rect x="1364" y="942.5" width="3.5" height="95.5" fill="#8d8d8d"/>
<text x="1433.5" y="999.75" font-size="37" fill="#8e8e8e" text-anchor="middle" letter-spacing="2">SMA</text>
<circle cx="1298" cy="1032.5" r="10.5" fill="#fff"/>
<path d="M676,838.5 L615,838.5 L615,858 M615,1012 L615,1033 L727,1033 L727,838.5 L706,838.5" fill="none" stroke="#fff" stroke-width="8.5" stroke-linejoin="round"/>
<rect x="639.5" y="804.5" width="67.5" height="46" fill="#cfbf42"/>
<rect x="639.5" y="1024" width="67.5" height="36" fill="#cfbf42"/>
<rect x="648" y="841" width="48" height="14" rx="5" fill="url(#leadv2)"/>
<rect x="648" y="1020" width="48" height="12" rx="5" fill="url(#leadv2)"/>
<path d="M600,859 L610,851 L717,851 L717,1018 L707,1026 L600,1026 Z" fill="#2a2a2a"/>
<rect x="600" y="859" width="97" height="167" fill="#393939"/>
<rect x="600" y="863.0" width="97" height="3" fill="#8d8d8d"/>
<rect x="600" y="869.0" width="97" height="3" fill="#8d8d8d"/>
<rect x="600" y="874.5" width="97" height="3" fill="#8d8d8d"/>
<rect x="600" y="880.0" width="97" height="3" fill="#8d8d8d"/>
<text x="0" y="0" font-size="37" fill="#8e8e8e" text-anchor="middle" letter-spacing="2" transform="translate(636,949) rotate(90)">SMA</text>
<circle cx="619" cy="804.5" r="11.5" fill="#fff"/>
<rect x="1413" y="721" width="30" height="18" fill="#cfbf42"/>
<rect x="1436" y="721" width="21" height="18" fill="url(#leadh)"/>
<rect x="1413" y="791" width="30" height="18" fill="#cfbf42"/>
<rect x="1436" y="791" width="21" height="18" fill="url(#leadh)"/>
<rect x="1528" y="719" width="29" height="18" fill="#cfbf42"/>
<rect x="1512" y="719" width="24" height="18" fill="url(#leadh)"/>
<rect x="1528" y="757" width="29" height="18" fill="#cfbf42"/>
<rect x="1512" y="757" width="24" height="18" fill="url(#leadh)"/>
<rect x="1528" y="793" width="29" height="18" fill="#cfbf42"/>
<rect x="1512" y="793" width="24" height="18" fill="url(#leadh)"/>
<rect x="1456" y="706.5" width="57" height="119" fill="#363636"/>
<rect x="1456" y="706.5" width="57" height="3" fill="#d8d8d8"/>
<text x="0" y="0" font-size="15" fill="#9a9a9a" text-anchor="middle" dominant-baseline="central" transform="translate(1485,767) rotate(-90)">SOT23-5</text>
<circle cx="1505" cy="804" r="4.5" fill="#9a9090"/>
<circle cx="1546.5" cy="822" r="8.5" fill="#fff"/>
<path d="M944,57 L944,146.5 M925.5,127.5 L944,146.5 L962.5,127.5" fill="none" stroke="#fff" stroke-width="18.5" stroke-linecap="round" stroke-linejoin="round"/>
<path d="M949.8,1252.5 L949.8,1339 M931.3,1320 L949.8,1339 L968.3,1320" fill="none" stroke="#fff" stroke-width="18.5" stroke-linecap="round" stroke-linejoin="round"/>
<path d="M1944.5,235 L1853.5,235 M1873.0,215.5 L1853.5,235 L1873.0,254.5" fill="none" stroke="#fff" stroke-width="19" stroke-linecap="round" stroke-linejoin="round"/>
<path d="M1705.5,1248 L1616,1248 M1635.5,1228.5 L1616,1248 L1635.5,1267.5" fill="none" stroke="#fff" stroke-width="19" stroke-linecap="round" stroke-linejoin="round"/>
<rect x="1898" y="-5" width="73" height="15" rx="4" fill="#cfbf42"/>
<rect x="2110" y="-5" width="53" height="15" rx="4" fill="#cfbf42"/>
<rect x="1925" y="-5" width="50" height="10" rx="4" fill="#c8c8c8"/>
<rect x="2112" y="-5" width="28" height="10" rx="4" fill="#c8c8c8"/>
<rect x="1973" y="-10" width="140" height="21" rx="5" fill="#262626"/>
<rect x="1973" y="11" width="121" height="11" fill="#fff"/>
<path d="M1723.5,416.5 L1760,416.5 M1723.5,416.5 L1675.5,464 L1675.5,980 L1722,1029" fill="none" stroke="#fff" stroke-width="9.5" stroke-linejoin="round"/>
<path d="M1708,446 L1768,407 L1815,396 L1815,1092 L1768,1077 L1708,997 Z" fill="#333333"/>
<path d="M1716,517 L1762,508 L1762,973 L1716,932 Z" fill="#151515"/>
<ellipse cx="1771" cy="498" rx="5.5" ry="34" fill="#1a1a1a"/>
<ellipse cx="1771" cy="980" rx="6" ry="34" fill="#1a1a1a"/>
<ellipse cx="1710" cy="731" rx="4" ry="30" fill="#1a1a1a"/>
<path d="M1772,406 L1812,398 L1812,450 Q1806,490 1793,492 Q1780,488 1776,450 Z" fill="#2b2b2b" opacity="0.8"/>
<path d="M1776,1075 L1812,1088 L1812,1040 Q1806,1000 1793,998 Q1780,1002 1776,1040 Z" fill="#2b2b2b" opacity="0.8"/>
<ellipse cx="1799" cy="753" rx="14.5" ry="92" fill="#3a3a3a"/>
<ellipse cx="1799" cy="753" rx="10" ry="80" fill="#353535"/>
<rect x="1789" y="748" width="20" height="3" fill="#4a4a4a"/>
<g transform="translate(1745,625) rotate(90)" fill="none" stroke="#a0a0a0" stroke-width="1.6"><path d="M0,0 L25,0 M12.5,0 L12.5,10.3 M96,2.5 Q99,0 113,0 Q130,0 130,3 Q130,5.5 113,7 L96,10.3 L130,10.3 M155,10.3 L155,0 L136,7 L163,7 M170,0 L213,0 L180,10.3"/><ellipse cx="61.5" cy="5.15" rx="28.5" ry="5.15"/></g>
<path d="M1815,384 Q1817,372 1830,366 L1851,354 L1851,1179 L1830,1162 L1815,1139 Z" fill="#383838"/>
<path d="M1851,354 L2054,315.5 L2143,315.5 L2143,1225 L2054,1225 L1851,1179 Z" fill="#3e3e3e"/>
<path d="M2054,316 L2143,316 L2143,470 L2054,470 Z" fill="#404040"/>
<path d="M1852,358 L1852,1176" stroke="#5a5a5a" stroke-width="1.2"/>
<g fill="#fff"><rect x="1022.5" y="-6" width="35" height="10.5" rx="4.5"/><rect x="1127" y="-6" width="11" height="10" rx="5"/><rect x="1150" y="-6" width="17" height="10" rx="5"/><rect x="1214" y="-6" width="33" height="11" rx="5"/><rect x="1345" y="-10" width="19" height="23" rx="9.5"/></g>
<g transform="translate(390.8,7.8) scale(1.0,1.0)" fill="none" stroke="#fff" stroke-width="9.6" stroke-linecap="round" stroke-linejoin="round"><path transform="translate(0.0,0)" d="M23.5,6 L17.5,0 L6,0 L0,6 L0,31.5 L6,37.5 L17.5,37.5 L23.5,31.5"/><path transform="translate(39.5,0)" d="M17,37.5 L17,0 L0,26 L23.5,26"/><path transform="translate(79.0,0)" d="M6,0 L17.5,0 L23.5,6 L23.5,31.5 L17.5,37.5 L6,37.5 L0,31.5 L0,6 Z"/></g>
<g transform="translate(807.8,6.8) scale(1.0,1.0)" fill="none" stroke="#fff" stroke-width="9.6" stroke-linecap="round" stroke-linejoin="round"><path transform="translate(0.0,0)" d="M0,37.5 L0,0 L17.5,0 L23.5,6 L23.5,14 L17.5,20 L0,20 M11,20 L23.5,37.5"/><path transform="translate(39.5,0)" d="M0,6 L6,0 L17.5,0 L23.5,6 L23.5,13 L0,37.5 L23.5,37.5"/><path transform="translate(79.0,0)" d="M-5,8 L5,0 L5,37.5 M-5,37.5 L11,37.5"/></g>
<g transform="translate(1309.8,105.8) scale(1.0,1.0)" fill="none" stroke="#fff" stroke-width="9.6" stroke-linecap="round" stroke-linejoin="round"><path transform="translate(0.0,0)" d="M0,0 L0,37.5 L13.5,37.5 L23.5,27.5 L23.5,10 L13.5,0 Z"/><path transform="translate(39.5,0)" d="M-5,8 L5,0 L5,37.5 M-5,37.5 L11,37.5"/></g>
<g transform="translate(367.8,215.8) scale(1.0,1.0)" fill="none" stroke="#fff" stroke-width="9.6" stroke-linecap="round" stroke-linejoin="round"><path transform="translate(0.0,0)" d="M23.5,0 L23.5,31.5 L17.5,37.5 L6,37.5 L0,31.5"/><path transform="translate(39.5,0)" d="M0,37.5 L0,0 L17.5,0 L23.5,6 L23.5,14 L17.5,20 L0,20"/><path transform="translate(79.0,0)" d="M21,0 L0,20 L0,31.5 L6,37.5 L17.5,37.5 L23.5,31.5 L23.5,25 L17.5,19 L6,19 L0,25"/></g>
<g transform="translate(507.8,186.8) scale(1.0,1.0)" fill="none" stroke="#fff" stroke-width="9.6" stroke-linecap="round" stroke-linejoin="round"><path transform="translate(0.0,0)" d="M0,37.5 L0,0 L17.5,0 L23.5,6 L23.5,14 L17.5,20 L0,20 M11,20 L23.5,37.5"/><path transform="translate(39.5,0)" d="M0,0 L23.5,0 L11,15 L17.5,15 L23.5,21 L23.5,31.5 L17.5,37.5 L6,37.5 L0,31.5"/><path transform="translate(79.0,0)" d="M-5,8 L5,0 L5,37.5 M-5,37.5 L11,37.5"/></g>
<g transform="translate(469.8,297.8) scale(1.0,1.0)" fill="none" stroke="#fff" stroke-width="9.6" stroke-linecap="round" stroke-linejoin="round"><path transform="translate(0.0,0)" d="M0,0 L0,37.5 L23.5,37.5"/><path transform="translate(39.5,0)" d="M23.5,0 L0,0 L0,37.5 L23.5,37.5 M0,18.5 L17,18.5"/><path transform="translate(79.0,0)" d="M0,0 L0,37.5 L13.5,37.5 L23.5,27.5 L23.5,10 L13.5,0 Z"/><path transform="translate(118.5,0)" d="M-5,8 L5,0 L5,37.5 M-5,37.5 L11,37.5"/></g>
<g transform="translate(534.8,388.8) scale(1.0,1.0)" fill="none" stroke="#fff" stroke-width="9.6" stroke-linecap="round" stroke-linejoin="round"><path transform="translate(0.0,0)" d="M0,37.5 L0,0 L17.5,0 L23.5,6 L23.5,14 L17.5,20 L0,20 M11,20 L23.5,37.5"/><path transform="translate(39.5,0)" d="M21,0 L0,20 L0,31.5 L6,37.5 L17.5,37.5 L23.5,31.5 L23.5,25 L17.5,19 L6,19 L0,25"/></g>
<g transform="translate(534.8,474.8) scale(1.0,1.0)" fill="none" stroke="#fff" stroke-width="9.6" stroke-linecap="round" stroke-linejoin="round"><path transform="translate(0.0,0)" d="M0,37.5 L0,0 L17.5,0 L23.5,6 L23.5,14 L17.5,20 L0,20 M11,20 L23.5,37.5"/><path transform="translate(39.5,0)" d="M23.5,0 L1.5,0 L0,17 L17.5,17 L23.5,23 L23.5,31.5 L17.5,37.5 L6,37.5 L0,31.5"/></g>
<g transform="translate(534.8,561.8) scale(1.0,1.0)" fill="none" stroke="#fff" stroke-width="9.6" stroke-linecap="round" stroke-linejoin="round"><path transform="translate(0.0,0)" d="M0,37.5 L0,0 L17.5,0 L23.5,6 L23.5,14 L17.5,20 L0,20 M11,20 L23.5,37.5"/><path transform="translate(39.5,0)" d="M6,18.5 L0,12.5 L0,6 L6,0 L17.5,0 L23.5,6 L23.5,12.5 L17.5,18.5 Z M6,18.5 L0,24.5 L0,31.5 L6,37.5 L17.5,37.5 L23.5,31.5 L23.5,24.5 L17.5,18.5"/></g>
<g transform="translate(534.8,647.8) scale(1.0,1.0)" fill="none" stroke="#fff" stroke-width="9.6" stroke-linecap="round" stroke-linejoin="round"><path transform="translate(0.0,0)" d="M0,37.5 L0,0 L17.5,0 L23.5,6 L23.5,14 L17.5,20 L0,20 M11,20 L23.5,37.5"/><path transform="translate(39.5,0)" d="M23.5,18.5 L6,18.5 L0,12.5 L0,6 L6,0 L17.5,0 L23.5,6 L23.5,17.5 L2.5,37.5"/></g>
<g transform="translate(501.8,733.8) scale(1.0,1.0)" fill="none" stroke="#fff" stroke-width="9.6" stroke-linecap="round" stroke-linejoin="round"><path transform="translate(0.0,0)" d="M0,37.5 L0,0 L17.5,0 L23.5,6 L23.5,14 L17.5,20 L0,20 M11,20 L23.5,37.5"/><path transform="translate(39.5,0)" d="M-5,8 L5,0 L5,37.5 M-5,37.5 L11,37.5"/><path transform="translate(69.5,0)" d="M6,0 L17.5,0 L23.5,6 L23.5,31.5 L17.5,37.5 L6,37.5 L0,31.5 L0,6 Z"/></g>
<g transform="translate(829.8,379.8) scale(1.0,1.0)" fill="none" stroke="#fff" stroke-width="9.6" stroke-linecap="round" stroke-linejoin="round"><path transform="translate(0.0,0)" d="M0,0 L0,31.5 L6,37.5 L17.5,37.5 L23.5,31.5 L23.5,0"/><path transform="translate(39.5,0)" d="M17,37.5 L17,0 L0,26 L23.5,26"/></g>
<g transform="translate(829.8,637.8) scale(1.0,1.0)" fill="none" stroke="#fff" stroke-width="9.6" stroke-linecap="round" stroke-linejoin="round"><path transform="translate(0.0,0)" d="M0,0 L0,31.5 L6,37.5 L17.5,37.5 L23.5,31.5 L23.5,0"/><path transform="translate(39.5,0)" d="M0,6 L6,0 L17.5,0 L23.5,6 L23.5,13 L0,37.5 L23.5,37.5"/></g>
<g transform="translate(1131.8,206.8) scale(1.0,1.0)" fill="none" stroke="#fff" stroke-width="9.6" stroke-linecap="round" stroke-linejoin="round"><path transform="translate(0.0,0)" d="M23.5,6 L17.5,0 L6,0 L0,6 L0,31.5 L6,37.5 L17.5,37.5 L23.5,31.5"/><path transform="translate(39.5,0)" d="M0,6 L6,0 L17.5,0 L23.5,6 L23.5,13 L0,37.5 L23.5,37.5"/></g>
<g transform="translate(1576.8,416.8) scale(1.0,1.0)" fill="none" stroke="#fff" stroke-width="9.6" stroke-linecap="round" stroke-linejoin="round"><path transform="translate(0.0,0)" d="M23.5,6 L17.5,0 L6,0 L0,6 L0,31.5 L6,37.5 L17.5,37.5 L23.5,31.5"/><path transform="translate(39.5,0)" d="M17,37.5 L17,0 L0,26 L23.5,26"/></g>
<g transform="translate(1576.8,502.8) scale(1.0,1.0)" fill="none" stroke="#fff" stroke-width="9.6" stroke-linecap="round" stroke-linejoin="round"><path transform="translate(0.0,0)" d="M23.5,6 L17.5,0 L6,0 L0,6 L0,31.5 L6,37.5 L17.5,37.5 L23.5,31.5"/><path transform="translate(39.5,0)" d="M21,0 L0,20 L0,31.5 L6,37.5 L17.5,37.5 L23.5,31.5 L23.5,25 L17.5,19 L6,19 L0,25"/></g>
<g transform="translate(1570.8,593.8) scale(1.0,1.0)" fill="none" stroke="#fff" stroke-width="9.6" stroke-linecap="round" stroke-linejoin="round"><path transform="translate(0.0,0)" d="M0,37.5 L0,0 L17.5,0 L23.5,6 L23.5,14 L17.5,20 L0,20 M11,20 L23.5,37.5"/><path transform="translate(39.5,0)" d="M0,6 L6,0 L17.5,0 L23.5,6 L23.5,13 L0,37.5 L23.5,37.5"/></g>
<g transform="translate(1234.8,589.8) scale(1.0,1.0)" fill="none" stroke="#fff" stroke-width="9.6" stroke-linecap="round" stroke-linejoin="round"><path transform="translate(0.0,0)" d="M0,37.5 L0,0 L17.5,0 L23.5,6 L23.5,14 L17.5,20 L0,20 M11,20 L23.5,37.5"/><path transform="translate(39.5,0)" d="M-5,8 L5,0 L5,37.5 M-5,37.5 L11,37.5"/></g>
<g transform="translate(1233.8,768.8) scale(1.0,1.0)" fill="none" stroke="#fff" stroke-width="9.6" stroke-linecap="round" stroke-linejoin="round"><path transform="translate(0.0,0)" d="M23.5,6 L17.5,0 L6,0 L0,6 L0,31.5 L6,37.5 L17.5,37.5 L23.5,31.5"/><path transform="translate(39.5,0)" d="M-5,8 L5,0 L5,37.5 M-5,37.5 L11,37.5"/></g>
<g transform="translate(1451.8,857.8) scale(1.0,1.0)" fill="none" stroke="#fff" stroke-width="9.6" stroke-linecap="round" stroke-linejoin="round"><path transform="translate(0.0,0)" d="M0,0 L0,31.5 L6,37.5 L17.5,37.5 L23.5,31.5 L23.5,0"/><path transform="translate(39.5,0)" d="M23.5,0 L1.5,0 L0,17 L17.5,17 L23.5,23 L23.5,31.5 L17.5,37.5 L6,37.5 L0,31.5"/></g>
<g transform="translate(1308.8,1075.8) scale(1.0,1.0)" fill="none" stroke="#fff" stroke-width="9.6" stroke-linecap="round" stroke-linejoin="round"><path transform="translate(0.0,0)" d="M0,0 L0,37.5 L13.5,37.5 L23.5,27.5 L23.5,10 L13.5,0 Z"/><path transform="translate(39.5,0)" d="M0,0 L23.5,0 L11,15 L17.5,15 L23.5,21 L23.5,31.5 L17.5,37.5 L6,37.5 L0,31.5"/></g>
<g transform="translate(1648.8,1051.8) scale(1.0,1.0)" fill="none" stroke="#fff" stroke-width="9.6" stroke-linecap="round" stroke-linejoin="round"><path transform="translate(0.0,0)" d="M6,0 L17.5,0 L23.5,6 L23.5,31.5 L17.5,37.5 L6,37.5 L0,31.5 L0,6 Z M13,27 L23.5,37.5"/><path transform="translate(39.5,0)" d="M-5,8 L5,0 L5,37.5 M-5,37.5 L11,37.5"/></g>
<g transform="translate(640.8,1095.8) scale(1.0,1.0)" fill="none" stroke="#fff" stroke-width="9.6" stroke-linecap="round" stroke-linejoin="round"><path transform="translate(0.0,0)" d="M0,0 L0,37.5 L13.5,37.5 L23.5,27.5 L23.5,10 L13.5,0 Z"/><path transform="translate(39.5,0)" d="M23.5,0 L1.5,0 L0,17 L17.5,17 L23.5,23 L23.5,31.5 L17.5,37.5 L6,37.5 L0,31.5"/></g>
<g transform="translate(960.8,1071.8) scale(1.0,1.0)" fill="none" stroke="#fff" stroke-width="9.6" stroke-linecap="round" stroke-linejoin="round"><path transform="translate(0.0,0)" d="M23.5,6 L17.5,0 L6,0 L0,6 L0,31.5 L6,37.5 L17.5,37.5 L23.5,31.5"/><path transform="translate(39.5,0)" d="M0,0 L23.5,0 L23.5,5 L7,37.5"/></g>
<g transform="translate(1048.8,1071.8) scale(1.0,1.0)" fill="none" stroke="#fff" stroke-width="9.6" stroke-linecap="round" stroke-linejoin="round"><path transform="translate(0.0,0)" d="M23.5,6 L17.5,0 L6,0 L0,6 L0,31.5 L6,37.5 L17.5,37.5 L23.5,31.5"/><path transform="translate(39.5,0)" d="M23.5,18.5 L6,18.5 L0,12.5 L0,6 L6,0 L17.5,0 L23.5,6 L23.5,17.5 L2.5,37.5"/></g>
<g transform="translate(1132.8,1071.8) scale(1.0,1.0)" fill="none" stroke="#fff" stroke-width="9.6" stroke-linecap="round" stroke-linejoin="round"><path transform="translate(0.0,0)" d="M23.5,6 L17.5,0 L6,0 L0,6 L0,31.5 L6,37.5 L17.5,37.5 L23.5,31.5"/><path transform="translate(39.5,0)" d="M6,18.5 L0,12.5 L0,6 L6,0 L17.5,0 L23.5,6 L23.5,12.5 L17.5,18.5 Z M6,18.5 L0,24.5 L0,31.5 L6,37.5 L17.5,37.5 L23.5,31.5 L23.5,24.5 L17.5,18.5"/></g>
<g transform="translate(363.8,1249.8) scale(1.0,1.0)" fill="none" stroke="#fff" stroke-width="9.6" stroke-linecap="round" stroke-linejoin="round"><path transform="translate(0.0,0)" d="M23.5,0 L23.5,31.5 L17.5,37.5 L6,37.5 L0,31.5"/><path transform="translate(39.5,0)" d="M0,37.5 L0,0 L17.5,0 L23.5,6 L23.5,14 L17.5,20 L0,20"/><path transform="translate(79.0,0)" d="M17,37.5 L17,0 L0,26 L23.5,26"/></g>
<g transform="translate(1287.8,1301.8) scale(1.0,1.0)" fill="none" stroke="#fff" stroke-width="9.6" stroke-linecap="round" stroke-linejoin="round"><path transform="translate(0.0,0)" d="M0,0 L0,37.5 L13.5,37.5 L23.5,27.5 L23.5,10 L13.5,0 Z"/><path transform="translate(39.5,0)" d="M21,0 L0,20 L0,31.5 L6,37.5 L17.5,37.5 L23.5,31.5 L23.5,25 L17.5,19 L6,19 L0,25"/></g>
<g transform="translate(836.3,1068.8) rotate(90) scale(1.0,1.0)" fill="none" stroke="#fff" stroke-width="9.6" stroke-linecap="round" stroke-linejoin="round"><path transform="translate(0.0,0)" d="M0,37.5 L0,0 L17.5,0 L23.5,6 L23.5,14 L17.5,20 L0,20 M11,20 L23.5,37.5"/><path transform="translate(39.5,0)" d="M-5,8 L5,0 L5,37.5 M-5,37.5 L11,37.5"/><path transform="translate(69.5,0)" d="M-5,8 L5,0 L5,37.5 M-5,37.5 L11,37.5"/></g>
<g transform="translate(923.3,1068.8) rotate(90) scale(1.0,1.0)" fill="none" stroke="#fff" stroke-width="9.6" stroke-linecap="round" stroke-linejoin="round"><path transform="translate(0.0,0)" d="M23.5,6 L17.5,0 L6,0 L0,6 L0,31.5 L6,37.5 L17.5,37.5 L23.5,31.5"/><path transform="translate(39.5,0)" d="M-5,8 L5,0 L5,37.5 M-5,37.5 L11,37.5"/><path transform="translate(69.5,0)" d="M6,0 L17.5,0 L23.5,6 L23.5,31.5 L17.5,37.5 L6,37.5 L0,31.5 L0,6 Z"/></g>
<text x="1247" y="70" font-size="84" font-weight="bold" fill="#fff" text-anchor="start" >Close</text>
<text x="1004" y="130" font-size="66" font-weight="bold" fill="#fff" text-anchor="start" >H2</text>
<text x="971" y="1259" font-size="66" font-weight="bold" fill="#fff" text-anchor="start" >H1</text>
<text x="1967" y="259.5" font-size="66" font-weight="bold" fill="#fff" text-anchor="start" >IN-1</text>
<text x="1719.5" y="1273" font-size="66" font-weight="bold" fill="#fff" text-anchor="start" >IN-3</text>
</svg></body></html>
